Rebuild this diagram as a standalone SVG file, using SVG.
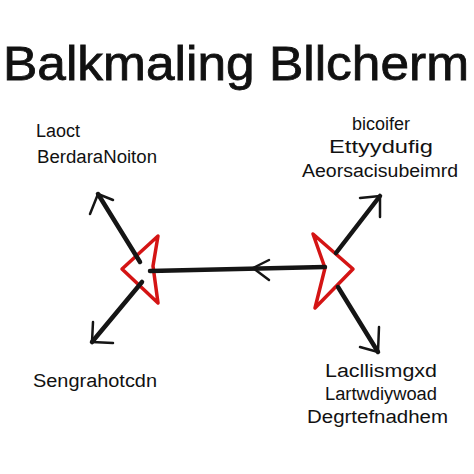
<svg xmlns="http://www.w3.org/2000/svg" width="474" height="474" viewBox="0 0 474 474">
<style>
text{font-family:"Liberation Sans",Arial,sans-serif;fill:#111}
.t{font-size:18px}
.ln{stroke:#151515;stroke-width:4.5;stroke-linecap:round;fill:none}
.hd{stroke:#151515;stroke-width:2.5;stroke-linecap:round;stroke-linejoin:round;fill:none}
.tri{stroke:#d41414;stroke-width:3.5;stroke-linejoin:round;fill:none}
</style>
<rect width="474" height="474" fill="#fff"/>
<g id="title"><text x="3" y="80" font-size="48" stroke="#111" stroke-width="0.8" textLength="466" lengthAdjust="spacingAndGlyphs">Balkmaling Bllcherm</text></g>
<g id="label-tl">
<text class="t" x="36" y="137" textLength="44" lengthAdjust="spacingAndGlyphs">Laoct</text>
<text class="t" x="37" y="163" textLength="120" lengthAdjust="spacingAndGlyphs">BerdaraNoiton</text>
</g>
<g id="label-tr">
<text class="t" x="352" y="130" textLength="58" lengthAdjust="spacingAndGlyphs">bicoifer</text>
<text class="t" x="329" y="153" textLength="104" lengthAdjust="spacingAndGlyphs">Ettyydufig</text>
<text class="t" x="302" y="177" textLength="156" lengthAdjust="spacingAndGlyphs">Aeorsacisubeimrd</text>
</g>
<g id="label-bl"><text class="t" x="33" y="387" textLength="124" lengthAdjust="spacingAndGlyphs">Sengrahotcdn</text></g>
<g id="label-br">
<text class="t" x="325" y="377" textLength="112" lengthAdjust="spacingAndGlyphs">Lacllismgxd</text>
<text class="t" x="325" y="400" textLength="112" lengthAdjust="spacingAndGlyphs">Lartwdiywoad</text>
<text class="t" x="307" y="423" textLength="141" lengthAdjust="spacingAndGlyphs">Degrtefnadhem</text>
</g>
<g id="node-left"><path class="tri" d="M158,236 L122,269 L158,303 L153,266 Z"/></g>
<g id="node-right"><path class="tri" d="M313,234 L353,269 L315,308 L325,268 Z"/></g>
<g id="connectors">
<path class="ln" d="M98,194 L140,262"/>
<path class="hd" d="M98,194 L113,200 M98,194 L90,214"/>
<path class="ln" d="M92,342 L142,282"/>
<path class="hd" d="M92,342 L93,322 M92,342 L113,343"/>
<path class="ln" d="M150,271 L325,267"/>
<path class="hd" d="M253,268 L269,260 M253,268 L269,280"/>
<path class="ln" d="M336,253 L380,196"/>
<path class="hd" d="M380,196 L360,198 M380,196 L380,217"/>
<path class="ln" d="M338,287 L378,352"/>
<path class="hd" d="M378,352 L360,347 M378,352 L379,327"/>
</g>
</svg>
